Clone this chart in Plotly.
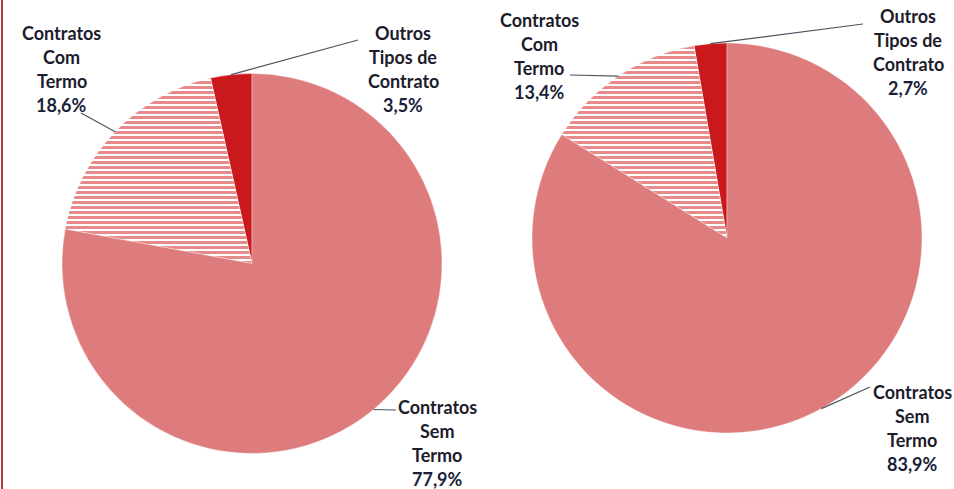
import math
import plotly.graph_objects as go

W, H = 954, 489

# ---- data ----
categories = ["Outros Tipos de Contrato", "Contratos Com Termo", "Contratos Sem Termo"]
left_values = [3.5, 18.6, 77.9]
right_values = [2.7, 13.4, 83.9]
left_labels = [["Outros", "Tipos de", "Contrato", "3,5%"],
               ["Contratos", "Com", "Termo", "18,6%"],
               ["Contratos", "Sem", "Termo", "77,9%"]]
right_labels = [["Outros", "Tipos de", "Contrato", "2,7%"],
                ["Contratos", "Com", "Termo", "13,4%"],
                ["Contratos", "Sem", "Termo", "83,9%"]]

# ---- layout / style (pixel positions) ----
colors = ["#C9191C", "#F2B8B8", "#DE7C7D"]
pies = [
    dict(values=left_values, labels=left_labels, cx=252, cy=263.5, r=190,
         text_pos=[(403, 33), (62, 33), (437, 407)],
         line_end=[(358, 40), (81, 113), (396, 410)]),
    dict(values=right_values, labels=right_labels, cx=727, cy=238, r=195,
         text_pos=[(908, 16), (539, 20), (912, 392)],
         line_end=[(863, 24), (570, 75), (870, 387)]),
]
LINE_GAP = 24


def px2paper(x, y):
    return x / W, 1 - y / H


fig = go.Figure()
shapes = []
annotations = []

for p in pies:
    cx, cy, r = p["cx"], p["cy"], p["r"]
    total = sum(p["values"])
    fig.add_trace(go.Pie(
        labels=categories,
        values=p["values"],
        sort=False,
        direction="counterclockwise",
        rotation=-360 * p["values"][0] / total,
        textinfo="none",
        hoverinfo="label+percent",
        showlegend=False,
        marker=dict(
            colors=colors,
            line=dict(color="rgba(255,255,255,0.6)", width=0.6),
            pattern=dict(shape=["", "-", ""],
                         fgcolor=["#C9191C", "#E8898A", "#DE7C7D"],
                         bgcolor=["#C9191C", "#FFFFFF", "#DE7C7D"],
                         size=5, solidity=0.6, fillmode="replace"),
        ),
        domain=dict(x=[(cx - r) / W, (cx + r) / W],
                    y=[1 - (cy + r) / H, 1 - (cy - r) / H]),
    ))
    cum = 0
    for i, v in enumerate(p["values"]):
        mid = (cum + v / 2) / total
        cum += v
        ang = math.radians(90 + 360 * mid)
        sx = cx + r * math.cos(ang)
        sy = cy - r * math.sin(ang)
        ex, ey = p["line_end"][i]
        x0, y0 = px2paper(sx, sy)
        x1, y1 = px2paper(ex, ey)
        shapes.append(dict(type="line", xref="paper", yref="paper",
                           x0=x0, y0=y0, x1=x1, y1=y1,
                           line=dict(color="#4a5560", width=1.2)))
        tx, ty = p["text_pos"][i]
        for j, line in enumerate(p["labels"][i]):
            ax, ay = px2paper(tx, ty + j * LINE_GAP)
            annotations.append(dict(
                x=ax, y=ay, xref="paper", yref="paper",
                text="<b>" + line + "</b>", showarrow=False,
                xanchor="center", yanchor="middle",
                font=dict(family="Lato", size=18,
                          color="#1c1c2c" if "%" not in line else "#1a1f3a"),
            ))

# red border at left edge
shapes.append(dict(type="line", xref="paper", yref="paper",
                   x0=2 / W, x1=2 / W, y0=0, y1=1,
                   line=dict(color="#B8393D", width=2)))

fig.update_layout(
    width=W, height=H,
    margin=dict(l=0, r=0, t=0, b=0),
    paper_bgcolor="white",
    plot_bgcolor="white",
    shapes=shapes,
    annotations=annotations,
)

fig.write_html("out.html",
               config={"displayModeBar": False},
               post_script="document.body.style.margin='0';document.body.style.overflow='hidden';")
